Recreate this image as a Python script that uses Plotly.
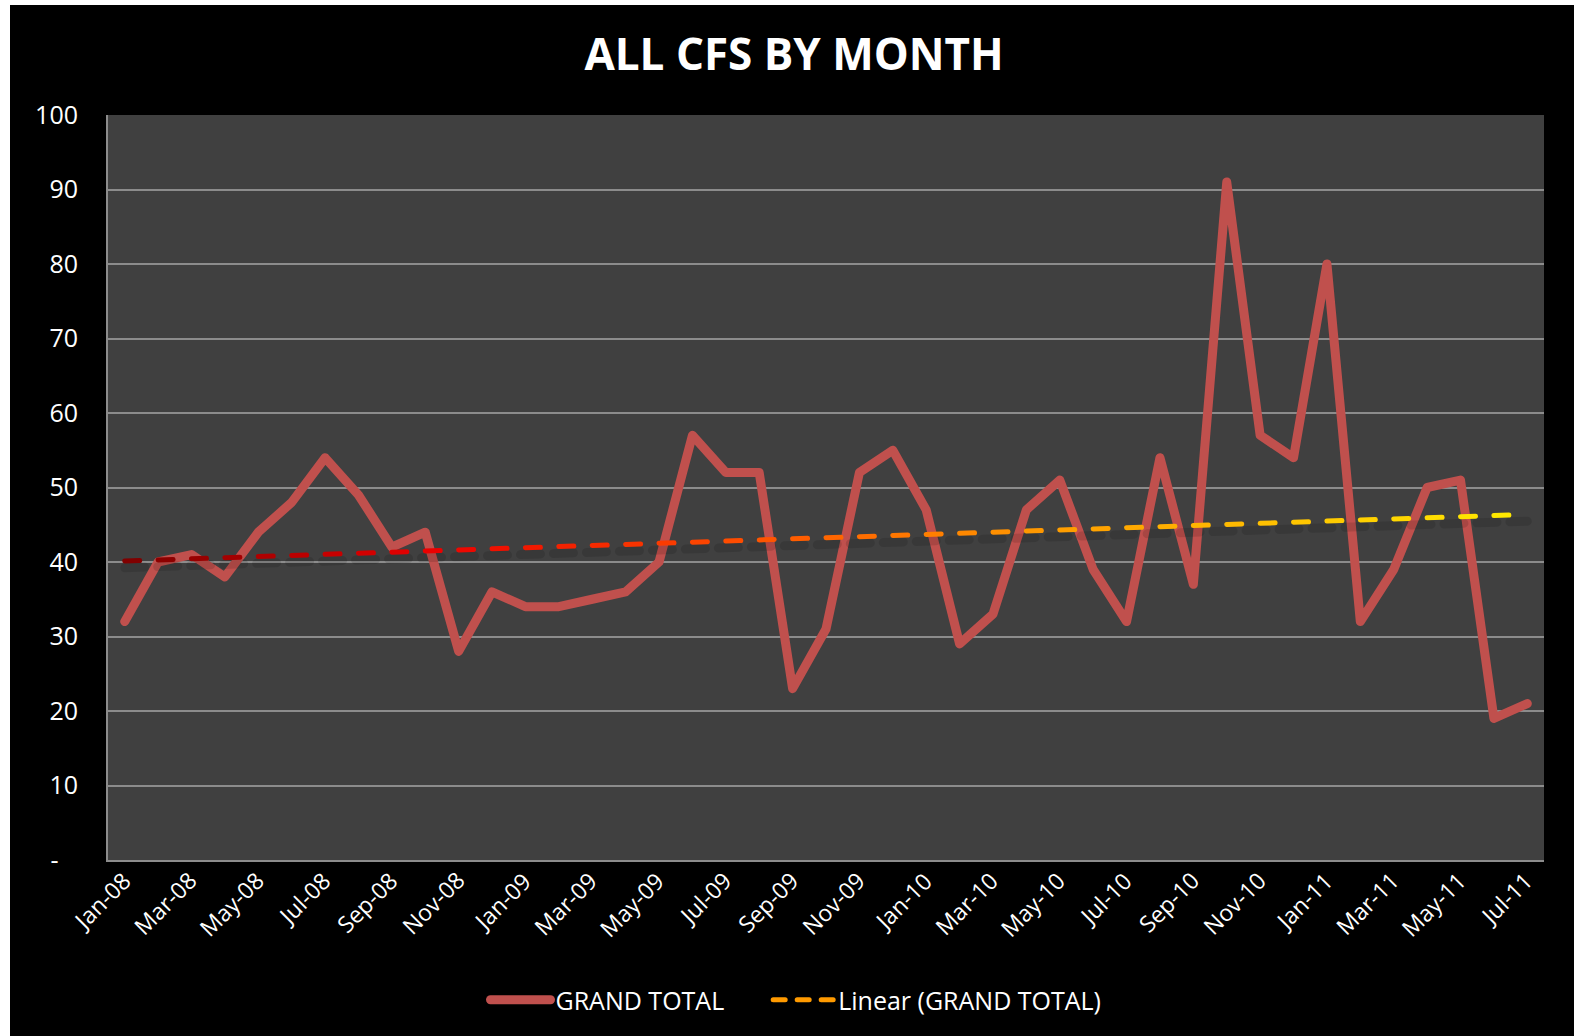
import numpy as np
import plotly.graph_objects as go

months = ["Jan-08", "Feb-08", "Mar-08", "Apr-08", "May-08", "Jun-08", "Jul-08", "Aug-08",
          "Sep-08", "Oct-08", "Nov-08", "Dec-08",
          "Jan-09", "Feb-09", "Mar-09", "Apr-09", "May-09", "Jun-09", "Jul-09", "Aug-09",
          "Sep-09", "Oct-09", "Nov-09", "Dec-09",
          "Jan-10", "Feb-10", "Mar-10", "Apr-10", "May-10", "Jun-10", "Jul-10", "Aug-10",
          "Sep-10", "Oct-10", "Nov-10", "Dec-10",
          "Jan-11", "Feb-11", "Mar-11", "Apr-11", "May-11", "Jun-11", "Jul-11"]

grand_total = [32, 40, 41, 38, 44, 48, 54, 49, 42, 44, 28, 36,
               34, 34, 35, 36, 40, 57, 52, 52, 23, 31, 52, 55,
               47, 29, 33, 47, 51, 39, 32, 54, 37, 91, 57, 54,
               80, 32, 39, 50, 51, 19, 21]

y_tick_vals = [0, 10, 20, 30, 40, 50, 60, 70, 80, 90, 100]
y_tick_text = ["-&nbsp;&nbsp;&nbsp;", "10", "20", "30", "40", "50", "60", "70", "80", "90", "100"]
x_tick_labels = months[::2]

# Linear trendline (least squares, as in the spreadsheet's "Linear" trendline)
idx = np.arange(len(grand_total))
slope, intercept = np.polyfit(idx, grand_total, 1)
trend = list(intercept + slope * idx)

# gradient stops for the trendline colour (dark red -> red -> orange -> yellow)
stops = [(0.0, (128, 0, 0)), (0.22, (235, 0, 0)), (0.45, (255, 80, 0)),
         (0.65, (255, 150, 0)), (1.0, (255, 232, 0))]


def grad(t):
    for (t0, c0), (t1, c1) in zip(stops[:-1], stops[1:]):
        if t <= t1:
            f = (t - t0) / (t1 - t0)
            return "rgb(%d,%d,%d)" % tuple(round(a + (b - a) * f) for a, b in zip(c0, c1))
    return "rgb(%d,%d,%d)" % stops[-1][1]


fig = go.Figure()

fig.add_trace(go.Scatter(
    x=months, y=grand_total, mode="lines", name="GRAND TOTAL\u00a0\u00a0\u00a0\u00a0\u00a0\u00a0",
    line=dict(color="#C0504D", width=9), hoverinfo="x+y"))

n = len(months)
# soft shadow under the trendline
fig.add_trace(go.Scatter(
    x=months, y=[v - 0.9 for v in trend], mode="lines", showlegend=False,
    line=dict(color="rgba(0,0,0,0.12)", width=9, dash="20px,13px"), hoverinfo="skip"))

# trendline drawn dash by dash so each dash carries its gradient colour
for i in range(n - 1):
    fig.add_trace(go.Scatter(
        x=[months[i], months[i + 1]], y=[trend[i], trend[i + 1]], mode="lines",
        showlegend=False, line=dict(color=grad(i / (n - 2)), width=5, dash="15px,40px"),
        hoverinfo="skip"))

# legend entry for the trendline
fig.add_trace(go.Scatter(
    x=[None], y=[None], mode="lines", name="Linear (GRAND TOTAL)",
    line=dict(color="#FF9A00", width=5, dash="12px,12px")))

# page is offset by 10px left / 5px top (white strips as in the reference)
W, H = 1564, 1031
ml, mr, mt, mb = 98, 30, 110, 176
PW, PH = W - ml - mr, H - mt - mb

# rotated month labels (Excel-style: label box ends just right of the category)
for lab in x_tick_labels:
    fig.add_annotation(
        x=lab, xref="x", y=0, yref="paper", text=lab, showarrow=False,
        textangle=-45, xanchor="right", yanchor="top", xshift=15, yshift=-2,
        font=dict(family="Open Sans, sans-serif", size=23, color="#FFFFFF"))

fig.update_layout(
    width=W, height=H,
    margin=dict(l=ml, r=mr, t=mt, b=mb),
    paper_bgcolor="#000000",
    plot_bgcolor="#404040",
    font=dict(family="Open Sans, sans-serif", color="#FFFFFF", size=22),
    title=dict(text="<b>ALL CFS BY MONTH</b>", x=784 / W, xanchor="center",
               y=1 - 50 / H, yanchor="middle", yref="container",
               font=dict(family="Open Sans, sans-serif", size=44, color="#FFFFFF")),
    legend=dict(orientation="h", x=(786 - ml) / PW, xanchor="center",
                y=-(995 - (H - mb)) / PH, yanchor="middle",
                font=dict(size=25, color="#FFFFFF"), bgcolor="rgba(0,0,0,0)",
                itemwidth=60),
    showlegend=True,
)

fig.update_xaxes(
    type="category", categoryorder="array", categoryarray=months,
    range=[-0.5, n - 0.5], showticklabels=False,
    tickmode="array", tickvals=x_tick_labels,
    showgrid=False, showline=True, linecolor="#8C8C8C", linewidth=2,
    ticks="", zeroline=False)

fig.update_yaxes(
    range=[0, 100], tickmode="array", tickvals=y_tick_vals, ticktext=y_tick_text,
    tickfont=dict(size=25, color="#FFFFFF"),
    showgrid=True, gridcolor="#8C8C8C", gridwidth=2,
    showline=True, linecolor="#8C8C8C", linewidth=2,
    ticks="outside", ticklen=23, tickcolor="rgba(0,0,0,0)", zeroline=False)

fig.write_html(
    "out.html",
    post_script=(
        "document.body.style.margin='5px 0 0 10px';"
        "document.body.style.background='#FFFFFF';"
        "document.querySelectorAll('.scatterlayer .js-line, .legend path').forEach("
        "function(p){p.style.strokeLinejoin='round';p.style.strokeLinecap='round';});"
    ))
